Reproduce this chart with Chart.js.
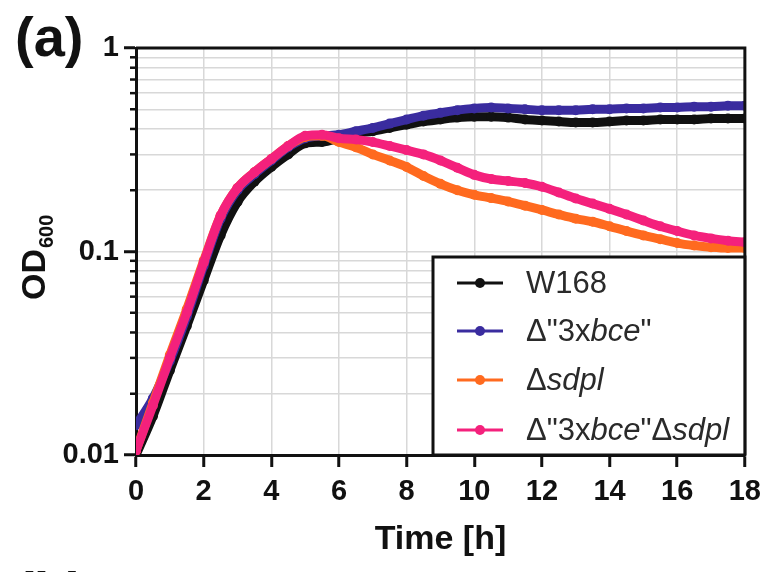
<!DOCTYPE html>
<html>
<head>
<meta charset="utf-8">
<script src="https://cdn.jsdelivr.net/npm/chart.js@4.4.1/dist/chart.umd.min.js"></script>
<style>
  html, body { margin: 0; padding: 0; background: #fff; }
  #wrap { width: 769px; height: 572px; }
</style>
</head>
<body>
<div id="wrap"><canvas id="growth" width="769" height="572"></canvas></div>
<script>
// time points (h)
const times = [0, 0.5, 1, 1.5, 2, 2.5, 3, 3.5, 4, 4.5, 5, 5.5, 6, 6.5, 7, 7.5, 8, 8.5, 9, 9.5,
  10, 10.5, 11, 11.5, 12, 12.5, 13, 13.5, 14, 14.5, 15, 15.5, 16, 16.5, 17, 17.5, 18];

// OD600 per strain
const w168 = [0.0100, 0.0155, 0.026, 0.043, 0.072, 0.12, 0.175, 0.22, 0.26, 0.30, 0.34, 0.345, 0.36,
  0.38, 0.39, 0.405, 0.42, 0.435, 0.445, 0.455, 0.46, 0.46, 0.455, 0.445, 0.44, 0.435, 0.43, 0.43,
  0.435, 0.44, 0.44, 0.445, 0.445, 0.445, 0.45, 0.45, 0.45];
const bce3x = [0.014, 0.019, 0.029, 0.048, 0.085, 0.145, 0.20, 0.24, 0.28, 0.325, 0.36, 0.37, 0.375,
  0.39, 0.405, 0.425, 0.445, 0.465, 0.48, 0.495, 0.505, 0.51, 0.505, 0.50, 0.495, 0.495, 0.495, 0.50,
  0.50, 0.505, 0.505, 0.51, 0.51, 0.515, 0.515, 0.52, 0.52];
const sdpl = [0.0105, 0.018, 0.031, 0.052, 0.09, 0.15, 0.205, 0.245, 0.285, 0.33, 0.365, 0.37, 0.345,
  0.325, 0.30, 0.28, 0.26, 0.235, 0.215, 0.20, 0.19, 0.183, 0.176, 0.168, 0.16, 0.152, 0.145, 0.14,
  0.133, 0.126, 0.12, 0.115, 0.11, 0.107, 0.105, 0.104, 0.104];
const bce3xSdpl = [0.0105, 0.0175, 0.030, 0.050, 0.088, 0.15, 0.205, 0.245, 0.285, 0.33, 0.37, 0.375,
  0.36, 0.355, 0.345, 0.33, 0.315, 0.30, 0.28, 0.258, 0.238, 0.227, 0.222, 0.217, 0.208, 0.195, 0.182,
  0.172, 0.162, 0.152, 0.142, 0.133, 0.126, 0.12, 0.116, 0.113, 0.111];

// legend labels (<i> = italic part)
const seriesNames = ['W168', 'Δ"3x<i>bce</i>"', 'Δ<i>sdpl</i>', 'Δ"3x<i>bce</i>"Δ<i>sdpl</i>'];
const seriesColors = ['#111111', '#3a2c9f', '#ff6a1f', '#f4217c'];

// axis ticks
const yLabelTicks = [0.01, 0.1, 1];
const xTickStep = 2;

const FONT = '"Liberation Sans", Arial, Helvetica, sans-serif';

// all log grid positions (1..9 per decade)
const yGrid = [];
for (let d = 0.01; d < 1; d *= 10) {
  for (let k = 1; k < 10; k++) yGrid.push(+(k * d).toPrecision(3));
}
yGrid.push(1);

function toPoints(arr) {
  return times.map((t, i) => ({ x: t, y: arr[i] }));
}

const allSeries = [w168, bce3x, sdpl, bce3xSdpl];
const datasets = allSeries.map((arr, i) => ({
  label: seriesNames[i].replace(/<\/?i>/g, ''),
  data: toPoints(arr),
  borderColor: seriesColors[i],
  backgroundColor: seriesColors[i],
  borderWidth: 9,
  pointRadius: 5,
  pointBorderWidth: 0,
  cubicInterpolationMode: 'monotone',
  order: allSeries.length - i
}));

// frame, minor ticks, y title, panel letters and the boxed legend
const decor = {
  id: 'decor',
  afterDraw(chart) {
    const c = chart.ctx;
    const a = chart.chartArea;
    const ys = chart.scales.y;
    c.save();

    // top + right frame
    c.strokeStyle = '#111';
    c.lineWidth = 3;
    c.beginPath();
    c.moveTo(a.left, a.top);
    c.lineTo(a.right, a.top);
    c.lineTo(a.right, a.bottom);
    c.stroke();

    // minor ticks on y
    c.lineWidth = 2.5;
    yGrid.forEach(v => {
      if (yLabelTicks.includes(v)) return;
      const py = ys.getPixelForValue(v);
      c.beginPath();
      c.moveTo(a.left - 6, py);
      c.lineTo(a.left, py);
      c.stroke();
    });

    // y title OD600
    c.fillStyle = '#111';
    c.translate(45, 300);
    c.rotate(-Math.PI / 2);
    c.textBaseline = 'alphabetic';
    c.textAlign = 'left';
    c.font = 'bold 34px ' + FONT;
    c.fillText('OD', 0, 0);
    const w = c.measureText('OD').width;
    c.font = 'bold 20px ' + FONT;
    c.fillText('600', w + 1, 8);
    c.setTransform(1, 0, 0, 1, 0, 0);

    // panel letters
    c.font = 'bold 56px ' + FONT;
    c.fillText('(a)', 15, 56);
    c.fillText('(b)', 15, 611);

    // legend box
    const bx = 433, by = 257, bw = a.right - bx, bh = a.bottom - by;
    c.fillStyle = '#fff';
    c.fillRect(bx, by, bw, bh);
    c.strokeStyle = '#111';
    c.lineWidth = 3;
    c.strokeRect(bx, by, bw, bh);

    const rowY = [283, 331, 380, 430];
    seriesNames.forEach((name, i) => {
      const ry = rowY[i];
      c.strokeStyle = seriesColors[i];
      c.fillStyle = seriesColors[i];
      c.lineWidth = 3;
      c.beginPath();
      c.moveTo(457, ry);
      c.lineTo(503, ry);
      c.stroke();
      c.beginPath();
      c.arc(480, ry, 5, 0, Math.PI * 2);
      c.fill();

      // text with italic parts
      c.fillStyle = '#2a2a2a';
      c.textBaseline = 'middle';
      let tx = 526;
      name.split(/(<i>.*?<\/i>)/).filter(s => s).forEach(part => {
        const it = part.startsWith('<i>');
        const txt = part.replace(/<\/?i>/g, '');
        c.font = (it ? 'italic ' : '') + '31px ' + FONT;
        c.fillText(txt, tx, ry + 1);
        tx += c.measureText(txt).width;
      });
    });

    c.restore();
  }
};

new Chart(document.getElementById('growth'), {
  type: 'line',
  data: { datasets: datasets },
  options: {
    responsive: false,
    animation: false,
    layout: { padding: { left: 0, top: 48, right: 21, bottom: 0 } },
    plugins: {
      legend: { display: false },
      tooltip: { enabled: false }
    },
    scales: {
      x: {
        type: 'linear',
        min: 0,
        max: 18,
        ticks: {
          stepSize: xTickStep,
          color: '#111',
          padding: 8,
          maxRotation: 0,
          font: { family: FONT, size: 29, weight: 'bold' }
        },
        grid: { color: '#d8d8d8', lineWidth: 1.5, tickLength: 12, tickColor: '#111', tickWidth: 3 },
        border: { color: '#111', width: 3 },
        title: {
          display: true,
          text: 'Time [h]',
          color: '#111',
          font: { family: FONT, size: 34, weight: 'bold' },
          padding: { top: 0, bottom: 12 }
        },
        afterFit: s => { s.height = 117; }
      },
      y: {
        type: 'logarithmic',
        min: 0.01,
        max: 1,
        afterBuildTicks: s => { s.ticks = yGrid.map(v => ({ value: v })); },
        ticks: {
          autoSkip: false,
          color: '#111',
          padding: 5,
          font: { family: FONT, size: 29, weight: 'bold' },
          callback: v => yLabelTicks.includes(v) ? String(v) : ''
        },
        grid: {
          color: '#d8d8d8',
          lineWidth: 1.5,
          tickLength: 12,
          tickWidth: 3,
          tickColor: c => (c.tick && yLabelTicks.includes(c.tick.value)) ? '#111' : 'rgba(0,0,0,0)'
        },
        border: { color: '#111', width: 3 },
        afterFit: s => { s.width = 136; }
      }
    }
  },
  plugins: [decor]
});
</script>
</body>
</html>
